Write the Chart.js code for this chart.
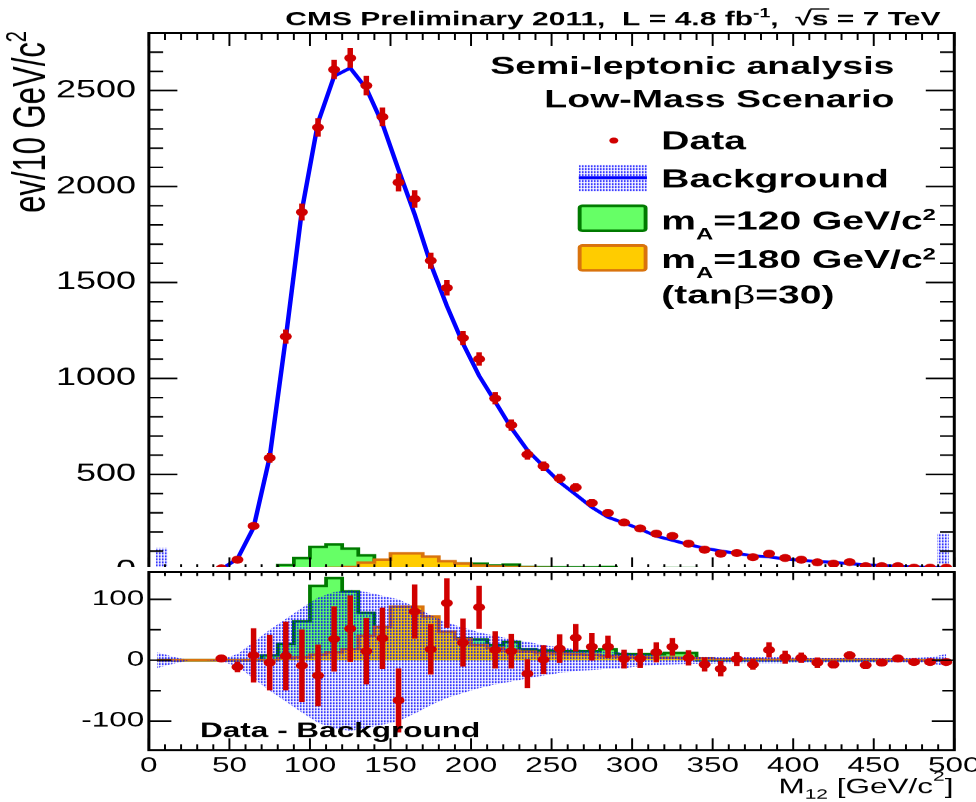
<!DOCTYPE html>
<html>
<head>
<meta charset="utf-8">
<title>Semi-leptonic analysis - M12 spectrum</title>
<script src="https://cdn.jsdelivr.net/npm/chart.js@4.4.1/dist/chart.umd.min.js"></script>
<style>
  html, body { margin: 0; padding: 0; background: #fff; overflow: hidden; }
  .pad { position: absolute; left: 0; transform-origin: 0 0; }
  .pad canvas { display: block; background: #fff; }
</style>
</head>
<body>
<div class="pad" id="mainPad" style="top:0"><canvas id="mainChart" width="651" height="575"></canvas></div>
<div class="pad" id="diffPad" style="top:567px"><canvas id="diffChart" width="651" height="235"></canvas></div>
<script>
// ---- binning and measured values (10 GeV/c^2 bins) ----
const massBins = [5, 15, 25, 35, 45, 55, 65, 75, 85, 95,
  105, 115, 125, 135, 145, 155, 165, 175, 185, 195,
  205, 215, 225, 235, 245, 255, 265, 275, 285, 295,
  305, 315, 325, 335, 345, 355, 365, 375, 385, 395,
  405, 415, 425, 435, 445, 455, 465, 475, 485, 495];

const dataCounts = [null, null, null, null, 10, 56, 231, 586, 1218, 1867,
  2308, 2610, 2670, 2526, 2363, 2021, 1935, 1614, 1472, 1211,
  1101, 896, 757, 604, 543, 479, 432, 351, 299, 249,
  218, 191, 179, 139, 108, 87, 90, 69, 87, 64,
  56, 42, 35, 43, 22, 22, 22, 14, 14, 14];

const dataErrors = [null, null, null, null, 3, 7, 15, 24, 35, 42,
  46, 48, 50, 49, 47, 45, 44, 40, 38, 35,
  33, 30, 28, 25, 23, 22, 21, 19, 17, 16,
  15, 14, 13, 12, 10, 9, 9, 8, 9, 8,
  7, 6, 6, 7, 5, 5, 5, 4, 4, 4];

const backgroundFit = [null, null, null, null, 6, 60, 223, 590, 1211, 1876,
  2333, 2575, 2618, 2511, 2327, 2087, 1855, 1596, 1378, 1182,
  1014, 879, 742, 626, 542, 460, 395, 329, 277, 247,
  215, 178, 157, 134, 115, 101, 88, 76, 70, 59,
  52, 46, 42, 35, 29, 25, 21, 18, 16, 14];

const signalMA120 = [0, 0, 0, 0, 0, 0, 0, 8, 27, 64,
  122, 135, 113, 78, 48, 40, 35, 30, 32, 36,
  34, 25, 30, 18, 16, 15, 15, 15, 18, 10,
  10, 10, 12, 12, 0, 0, 0, 0, 0, 0,
  0, 0, 0, 0, 0, 0, 0, 0, 0, 0];

const signalMA180 = [0, 0, 0, 0, 0, 0, 0, 0, 3, 5,
  9, 13, 18, 40, 55, 88, 88, 72, 47, 35,
  25, 20, 16, 14, 12, 11, 10, 9, 7, 6,
  5, 4, 4, 3, 3, 2, 2, 2, 1, 1,
  1, 1, 1, 1, 1, 1, 0, 0, 0, 0];

const dataMinusBkg = [null, null, null, null, 3, -11, 8, -4, 7, -9,
  -25, 35, 52, 15, 36, -66, 80, 18, 94, 29,
  87, 17, 15, -22, 1, 19, 37, 22, 22, 2,
  3, 13, 22, 4, -7, -14, 2, -7, 17, 5,
  4, -4, -7, 8, -8, -4, 3, -3, -3, -3];

const diffErrors = [null, null, null, null, 5, 8, 44, 45, 56, 59,
  50, 53, 54, 54, 50, 52, 44, 41, 40, 39,
  35, 30, 28, 23, 23, 23, 22, 22, 18, 15,
  15, 16, 14, 12, 11, 12, 11, 8, 12, 10,
  8, 8, 6, 6, 6, 5, 5, 4, 4, 4];

const bkgUncertainty = [13, 6, 0, 0, 2, 10, 30, 50, 68, 86,
  103, 112, 116, 112, 106, 100, 88, 74, 62, 54,
  46, 40, 35, 30, 25, 21, 18, 16, 14, 13,
  10, 8, 7, 6, 6, 5, 5, 5, 5, 5,
  4, 4, 4, 4, 4, 4, 4, 4, 5, 10];

// background band where the expectation is almost empty (edges of the range)
const edgeBandMass = [8, 493];
const edgeBandLow = [0, 35];
const edgeBandHigh = [115, 190];

// axis tick values
const countTicks = [0, 500, 1000, 1500, 2000, 2500];
const diffTicks = [-100, 0, 100];
const massTicks = [0, 50, 100, 150, 200, 250, 300, 350, 400, 450, 500];

// ---- drawing setup ----
const FONT = '"Liberation Sans", Arial, Helvetica, sans-serif';
const SX = 976 / 651;              // the canvases are widened by this factor on the page
const px = v => v / SX;            // page x -> canvas x
document.querySelectorAll('.pad').forEach(p => { p.style.transform = 'scaleX(' + SX + ')'; });

Chart.defaults.font.family = FONT;
Chart.defaults.color = '#000';

const RED = '#d00000';
const GREEN_FILL = '#66ff66', GREEN_LINE = '#007a00';
const ORANGE_FILL = '#ffcc00', ORANGE_LINE = '#d9730d';
const BLUE = '#0000ff';

function dotPattern(color) {
  const c = document.createElement('canvas');
  c.width = 2; c.height = 3;
  const g = c.getContext('2d');
  g.fillStyle = color;
  g.fillRect(0, 0, 1, 2);
  return g.createPattern(c, 'repeat');
}
const DOTS = dotPattern(BLUE);

const series = ys => massBins.map((m, i) => ({ x: m, y: ys[i] })).filter(p => p.y !== null);
const errorBars = (ys, es) => massBins
  .map((m, i) => ys[i] === null ? null : ({ x: m, y: [ys[i] - es[i], ys[i] + es[i]] }))
  .filter(Boolean);

// keep the plot frame exactly where the layout padding puts it
function fixSize(w, h) {
  return s => {
    if (w !== null) s.width = w;
    if (h !== null) s.height = h;
    s.paddingTop = 0; s.paddingBottom = 0; s.paddingLeft = 0; s.paddingRight = 0;
  };
}

function richText(ctx, parts, x, y, align, base) {
  const fontOf = p => {
    const bold = (p.bold !== undefined ? p.bold : base.bold) ? 'bold ' : '';
    return bold + (p.size || base.size) + 'px ' + FONT;
  };
  const widths = parts.map(p => { ctx.font = fontOf(p); return ctx.measureText(p.t).width; });
  const total = widths.reduce((s, w) => s + w, 0);
  let cx = align === 'right' ? x - total : x;
  ctx.textAlign = 'left';
  ctx.textBaseline = 'alphabetic';
  parts.forEach((p, i) => {
    ctx.font = fontOf(p);
    ctx.fillText(p.t, cx, y + (p.dy || 0));
    if (p.over) {
      const sz = p.size || base.size;
      ctx.save();
      ctx.lineWidth = 1.4;
      ctx.strokeStyle = ctx.fillStyle;
      ctx.beginPath();
      ctx.moveTo(cx - 1, y - sz * 0.8);
      ctx.lineTo(cx + widths[i] + 0.5, y - sz * 0.8);
      ctx.stroke();
      ctx.restore();
    }
    cx += widths[i];
  });
}

// frame and inward tick marks, ROOT style
function panelFrame(id, o) {
  return {
    id,
    afterDatasetsDraw(chart) {
      const { ctx, chartArea: a, scales: { x, y } } = chart;
      ctx.save();
      ctx.strokeStyle = '#000';
      ctx.beginPath();
      for (let v = x.min; v <= x.max; v += o.xMinor) {
        const X = x.getPixelForValue(v);
        const major = v % o.xMajor === 0;
        ctx.moveTo(X, a.bottom); ctx.lineTo(X, a.bottom - (major ? o.xBottom[0] : o.xBottom[1]));
        ctx.moveTo(X, a.top); ctx.lineTo(X, a.top + (major ? o.xTop[0] : o.xTop[1]));
      }
      ctx.lineWidth = 1.3;
      ctx.stroke();
      ctx.beginPath();
      for (let v = Math.ceil(y.min / o.yMinor) * o.yMinor; v <= y.max; v += o.yMinor) {
        const Y = y.getPixelForValue(v);
        const len = v % o.yMajor === 0 ? o.yLen[0] : o.yLen[1];
        ctx.moveTo(a.left, Y); ctx.lineTo(a.left + len, Y);
        ctx.moveTo(a.right, Y); ctx.lineTo(a.right - len, Y);
      }
      ctx.lineWidth = 1.6;
      ctx.stroke();
      ctx.lineWidth = 2;
      ctx.strokeRect(a.left, a.top, a.right - a.left, a.bottom - a.top);
      ctx.restore();
    }
  };
}

// titles and legend of the upper panel
const mainText = {
  id: 'mainText',
  afterDraw(chart) {
    const ctx = chart.ctx;
    ctx.save();
    ctx.fillStyle = '#000';
    ctx.strokeStyle = '#000';

    richText(ctx, [
      { t: 'CMS Preliminary 2011,  L = 4.8 fb' },
      { t: '-1', size: 13, dy: -8 },
      { t: ',  \u221A' },
      { t: 's', over: true },
      { t: ' = 7 TeV' }
    ], px(940), 25, 'right', { size: 20, bold: true });

    // vertical axis title
    ctx.save();
    ctx.translate(px(45), 31);
    ctx.rotate(-Math.PI / 2);
    richText(ctx, [{ t: 'ev/10 GeV/c' }, { t: '2', size: 20, dy: -13 }], 0, 0, 'right', { size: 31, bold: false });
    ctx.restore();

    richText(ctx, [{ t: 'Semi-leptonic analysis' }], px(894), 74, 'right', { size: 25, bold: true });
    richText(ctx, [{ t: 'Low-Mass Scenario' }], px(894), 107, 'right', { size: 25, bold: true });

    const tx = px(661);
    const lb = { size: 26, bold: true };
    // Data
    ctx.fillStyle = RED;
    ctx.beginPath(); ctx.arc(px(613.5), 140.5, 3, 0, Math.PI * 2); ctx.fill();
    ctx.fillStyle = '#000';
    richText(ctx, [{ t: 'Data' }], tx, 149.5, 'left', lb);
    // Background
    ctx.fillStyle = DOTS;
    ctx.fillRect(px(578.5), 165, px(646.6) - px(578.5), 26);
    ctx.strokeStyle = BLUE; ctx.lineWidth = 3;
    ctx.beginPath(); ctx.moveTo(px(578.5), 177.6); ctx.lineTo(px(646.6), 177.6); ctx.stroke();
    ctx.fillStyle = '#000';
    richText(ctx, [{ t: 'Background' }], tx, 187.5, 'left', lb);
    // signal boxes
    const box = (y, h, fill, line) => {
      const x0 = px(577.4), w = px(647.2) - px(577.4), lw = 2.6;
      ctx.beginPath();
      ctx.roundRect(x0 + lw / 2, y + lw / 2, w - lw, h - lw, 2);
      ctx.fillStyle = fill; ctx.fill();
      ctx.lineWidth = lw; ctx.strokeStyle = line; ctx.stroke();
    };
    box(204.4, 27.6, GREEN_FILL, GREEN_LINE);
    box(244, 27.5, ORANGE_FILL, ORANGE_LINE);
    ctx.fillStyle = '#000';
    richText(ctx, [{ t: 'm' }, { t: 'A', size: 16, dy: 10 }, { t: '=120 GeV/c' }, { t: '2', size: 16, dy: -9 }], tx, 229, 'left', lb);
    richText(ctx, [{ t: 'm' }, { t: 'A', size: 16, dy: 10 }, { t: '=180 GeV/c' }, { t: '2', size: 16, dy: -9 }], tx, 268, 'left', lb);
    richText(ctx, [{ t: '(tan' }, { t: '\u03B2', bold: false }, { t: '=30)' }], tx, 303.5, 'left', lb);
    ctx.restore();
  }
};

// labels of the lower panel
const diffText = {
  id: 'diffText',
  afterDraw(chart) {
    const ctx = chart.ctx;
    ctx.save();
    ctx.fillStyle = '#000';
    richText(ctx, [{ t: 'Data - Background' }], px(200), 170, 'left', { size: 21, bold: true });
    richText(ctx, [{ t: 'M' }, { t: '12', size: 14, dy: 5 }, { t: ' [GeV/c' }, { t: '2', size: 14, dy: -13 }, { t: ']' }],
      px(953), 226, 'right', { size: 21, bold: false });
    ctx.restore();
  }
};

const signalSets = () => [
  { type: 'line', label: 'mA=120', data: series(signalMA120), stepped: 'middle', fill: 'origin',
    backgroundColor: GREEN_FILL, borderColor: GREEN_LINE, borderWidth: 2.5, pointRadius: 0, order: 10 },
  { type: 'line', label: 'mA=180', data: series(signalMA180), stepped: 'middle', fill: 'origin',
    backgroundColor: ORANGE_FILL, borderColor: ORANGE_LINE, borderWidth: 2.5, pointRadius: 0, order: 9 }
];

const hiddenGrid = { display: false, drawTicks: false };
const noBorder = { display: false };

new Chart(document.getElementById('mainChart'), {
  type: 'line',
  data: {
    datasets: [
      ...signalSets(),
      { type: 'bar', label: 'Background band', grouped: false, barThickness: 7, order: 8,
        data: edgeBandMass.map((m, i) => ({ x: m, y: [edgeBandLow[i], edgeBandHigh[i]] })),
        backgroundColor: DOTS, borderWidth: 0 },
      { type: 'line', label: 'Background', data: series(backgroundFit), borderColor: BLUE, borderWidth: 3,
        pointRadius: 0, tension: 0, fill: false, order: 7 },
      { type: 'bar', label: 'Data uncertainty', grouped: false, barThickness: 3, order: 2,
        data: errorBars(dataCounts, dataErrors), backgroundColor: RED, borderWidth: 0 },
      { type: 'line', label: 'Data', data: series(dataCounts), showLine: false, pointRadius: 4,
        pointBackgroundColor: RED, pointBorderWidth: 0, borderColor: RED, order: 1 }
    ]
  },
  options: {
    responsive: false, animation: false, devicePixelRatio: 1.5, events: [],
    layout: { padding: { left: 0, right: 651 - px(953.8), top: 33, bottom: 0 }, autoPadding: false },
    plugins: { legend: { display: false }, tooltip: { enabled: false } },
    scales: {
      x: { type: 'linear', min: 0, max: 500, offset: false, grid: hiddenGrid, border: noBorder,
           ticks: { display: false }, afterFit: fixSize(null, 5) },
      y: { type: 'linear', min: 0, max: 2800, grid: hiddenGrid, border: noBorder,
           ticks: { font: { size: 24 }, color: '#000', padding: 8.5, callback: v => String(v) },
           afterBuildTicks: s => { s.ticks = countTicks.map(v => ({ value: v })); },
           afterFit: fixSize(px(148.8), null) }
    }
  },
  plugins: [panelFrame('mainFrame', { xMinor: 10, xMajor: 50, xBottom: [13, 6], xTop: [13, 7],
                                       yMinor: 100, yMajor: 500, yLen: [19, 9.5] }), mainText]
});

new Chart(document.getElementById('diffChart'), {
  type: 'line',
  data: {
    datasets: [
      ...signalSets(),
      { type: 'line', label: 'Background +1 sigma', data: series(bkgUncertainty), borderColor: 'rgba(0,0,0,0)',
        borderWidth: 1, pointRadius: 0, fill: '+1', backgroundColor: DOTS, order: 8 },
      { type: 'line', label: 'Background -1 sigma', data: series(bkgUncertainty.map(e => -e)), borderColor: 'rgba(0,0,0,0)',
        borderWidth: 1, pointRadius: 0, fill: false, order: 8 },
      { type: 'bar', label: 'Difference uncertainty', grouped: false, barThickness: 3, order: 2,
        data: errorBars(dataMinusBkg, diffErrors), backgroundColor: RED, borderWidth: 0 },
      { type: 'line', label: 'Data - Background', data: series(dataMinusBkg), showLine: false, pointRadius: 4,
        pointBackgroundColor: RED, pointBorderWidth: 0, borderColor: RED, order: 1 }
    ]
  },
  options: {
    responsive: false, animation: false, devicePixelRatio: 1.5, events: [],
    layout: { padding: { left: 0, right: 651 - px(953.8), top: 5, bottom: 0 }, autoPadding: false },
    plugins: { legend: { display: false }, tooltip: { enabled: false } },
    scales: {
      x: { type: 'linear', min: 0, max: 500, offset: false, grid: hiddenGrid, border: noBorder,
           ticks: { font: { size: 21 }, color: '#000', padding: 3, autoSkip: false, maxRotation: 0, minRotation: 0,
                    callback: v => String(v) },
           afterBuildTicks: s => { s.ticks = massTicks.map(v => ({ value: v })); },
           afterFit: fixSize(null, 52) },
      y: { type: 'linear', min: -148, max: 145, grid: hiddenGrid, border: noBorder,
           ticks: { font: { size: 21 }, color: '#000', padding: 3, callback: v => String(v) },
           afterBuildTicks: s => { s.ticks = diffTicks.map(v => ({ value: v })); },
           afterFit: fixSize(px(148.8), null) }
    }
  },
  plugins: [panelFrame('diffFrame', { xMinor: 10, xMajor: 50, xBottom: [12, 6], xTop: [8, 4],
                                       yMinor: 50, yMajor: 100, yLen: [15, 8] }), diffText]
});
</script>
</body>
</html>
